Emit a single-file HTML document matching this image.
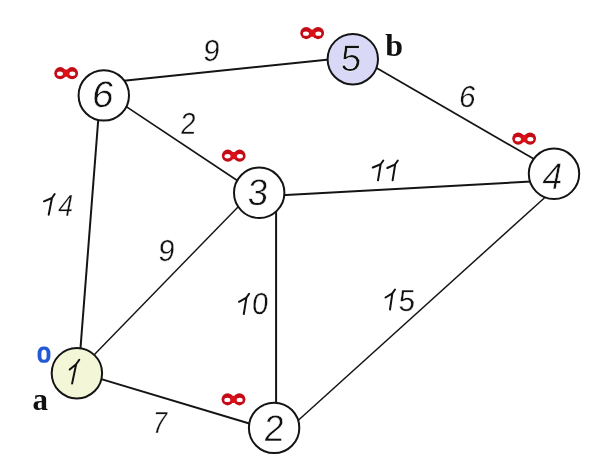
<!DOCTYPE html>
<html><head><meta charset="utf-8">
<style>
html,body{margin:0;padding:0;background:#fff;width:600px;height:470px;overflow:hidden}
svg{display:block;will-change:transform}
.t{font-family:"Liberation Sans",sans-serif;fill:#111;stroke:#fff}
.l{font-family:"Liberation Serif",serif;font-weight:bold;fill:#111}
</style></head>
<body>
<svg width="600" height="470" viewBox="0 0 600 470">

<g class="edges" stroke="#141414" fill="none">
<line x1="119.04" y1="81.22" x2="333.96" y2="59.08" stroke-width="1.99"/>
<line x1="121.77" y1="103.62" x2="240.63" y2="182.68" stroke-width="1.67"/>
<line x1="98.64" y1="114.52" x2="79.96" y2="354.98" stroke-width="1.99"/>
<line x1="369.34" y1="63.79" x2="538.76" y2="161.81" stroke-width="1.73"/>
<line x1="277.01" y1="195.38" x2="535.99" y2="181.22" stroke-width="2"/>
<line x1="241.88" y1="202.94" x2="89.12" y2="359.92" stroke-width="1.43"/>
<line x1="276.1" y1="205" x2="276.1" y2="410" stroke-width="2"/>
<line x1="93.79" y1="376.84" x2="254.31" y2="424.96" stroke-width="1.92"/>
<line x1="292.81" y1="425.24" x2="548.19" y2="194.46" stroke-width="1.48"/>
</g>
<g class="circles" stroke="#141414" stroke-width="2">
<circle cx="103.8" cy="95.4" r="25.2" fill="#fff"/>
<circle cx="352.8" cy="59.2" r="25.2" fill="#d9d9f7"/>
<circle cx="554" cy="173.8" r="25.2" fill="#fff"/>
<circle cx="259.2" cy="192.8" r="25.2" fill="#fff"/>
<circle cx="274.1" cy="427.9" r="25.2" fill="#fff"/>
<circle cx="76.9" cy="373.2" r="25.2" fill="#f3f7d8"/>
</g>
<g class="txt">
<text class="t" id="n0" transform="translate(90.8,106.7) skewX(-8) scale(1.05,1)" font-size="37" stroke-width="0.55">6</text>
<text class="t" id="n1" transform="translate(340.1,70.6) skewX(-4) scale(1,1)" font-size="37" stroke-width="0.55" fill="#22225e">5</text>
<text class="t" id="n2" transform="translate(540.8,188.9) skewX(-11) scale(0.95,1)" font-size="37" stroke-width="0.55">4</text>
<text class="t" id="n3" transform="translate(246.8,204.7) skewX(-5) scale(1,1)" font-size="37" stroke-width="0.55">3</text>
<text class="t" id="n4" transform="translate(263.1,441) skewX(-5) scale(0.99,1)" font-size="37" stroke-width="0.55">2</text>
<text class="t" id="l0" transform="translate(202.5,60.6) skewX(-6) scale(0.97,1)" font-size="30.5" stroke-width="0.35">9</text>
<text class="t" id="l1" transform="translate(179.7,134.1) skewX(-5) scale(0.92,1)" font-size="30.5" stroke-width="0.35">2</text>
<text class="t" id="l2" transform="translate(56.7,215.5) skewX(-11) scale(0.87,1)" font-size="30.5" stroke-width="0.35">4</text>
<text class="t" id="l3" transform="translate(458,107.3) skewX(-8) scale(0.97,1)" font-size="30.5" stroke-width="0.35">6</text>
<text class="t" id="l4" transform="translate(157.6,261.1) skewX(-6) scale(0.97,1)" font-size="30.5" stroke-width="0.35">9</text>
<text class="t" id="l5" transform="translate(251.3,314.2) skewX(-5) scale(0.97,1)" font-size="30.5" stroke-width="0.35">0</text>
<text class="t" id="l6" transform="translate(151.1,433.2) skewX(-10) scale(0.85,1)" font-size="30.5" stroke-width="0.35">7</text>
<text class="t" id="l7" transform="translate(398,310.5) skewX(-4) scale(0.97,1)" font-size="30.5" stroke-width="0.35">5</text>
</g>
<g class="ones" stroke="#111" stroke-width="2" fill="none" stroke-linecap="round" stroke-linejoin="round">
<path d="M44 201.3L51.96 197.96L54.7 194M51.96 197.96L48.7 214.7"/>
<path d="M372.8 167.5L380.68 164.29L383.3 160.5M380.68 164.29L378 180.3"/>
<path d="M387.3 168L395.18 164.29L397.8 160.5M395.18 164.29L392.6 180.3"/>
<path d="M239 301.8L246.43 297.66L249.1 293.8M246.43 297.66L243.8 314"/>
<path d="M385.5 297.5L392.35 293.32L395 289.5M392.35 293.32L390 309.5"/>
<path d="M69.7 369.5L76.14 364.27L79.3 359.7M76.14 364.27L72.1 383.6"/>
</g>
<text class="l" x="385.2" y="56.4" font-size="32">b</text>
<text class="l" x="32.6" y="409.8" font-size="31">a</text>
<g class="zero" fill="#2359d4"><rect x="37.6" y="346.6" width="12.8" height="16.2" rx="5.2" ry="6.5"/><rect x="41.4" y="349.8" width="5.2" height="10" rx="2.4" ry="3.5" fill="#fff"/></g>
<defs><g id="inf"><ellipse cx="-5.9" cy="0" rx="6" ry="6.1"/><ellipse cx="5.9" cy="0" rx="6" ry="6.1"/><rect x="-3" y="-3.6" width="6" rx="1" height="7.2" fill="#dc1118"/><ellipse cx="-6.2" cy="0.6" rx="3" ry="2.2" fill="#fff"/><ellipse cx="6.2" cy="0.6" rx="3" ry="2.2" fill="#fff"/></g></defs>
<g class="inf" fill="#c40c16">
<use href="#inf" x="66.15" y="73.2"/>
<use href="#inf" x="312.15" y="33.05"/>
<use href="#inf" x="233.7" y="155.7"/>
<use href="#inf" x="524.15" y="138.6"/>
<use href="#inf" x="233.5" y="399.3"/>
</g>
</svg>
</body></html>
